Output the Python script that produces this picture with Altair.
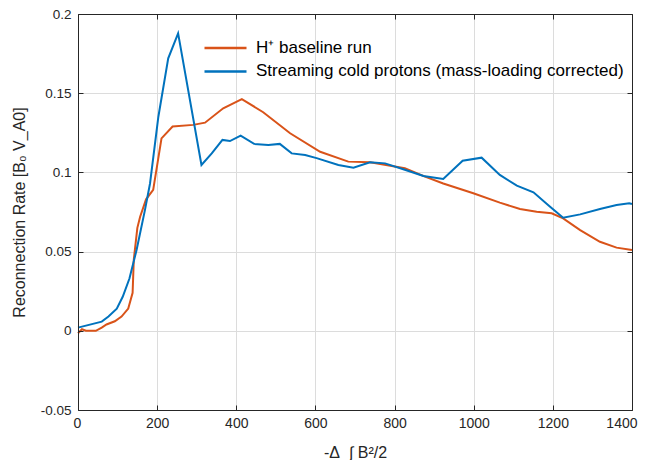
import altair as alt
import pandas as pd

label_h = "H⁺ baseline run"
label_s = "Streaming cold protons (mass-loading corrected)"

h_x = [0, 10, 20, 45, 60, 72, 93, 110, 127, 138, 141, 150, 157, 172, 190, 211, 239, 291, 321, 367,
       414, 468, 536, 612, 683, 738, 826, 877, 923, 999, 1066, 1117, 1159, 1197, 1226, 1269, 1319,
       1361, 1400]
h_y = [-0.0015, 0.001, 0.0, 0.0, 0.002, 0.004, 0.006, 0.009, 0.014, 0.024, 0.045, 0.065, 0.072,
       0.083, 0.089, 0.1215, 0.129, 0.130, 0.1314, 0.1405, 0.1463, 0.138, 0.1247, 0.113, 0.1068,
       0.1064, 0.1026, 0.0973, 0.093, 0.0868, 0.0809, 0.0769, 0.0752, 0.0742, 0.071, 0.0636,
       0.0562, 0.0525, 0.051]

s_x = [0, 60, 77, 98, 113, 130, 148, 169, 182, 203, 228, 253, 312, 338, 365, 384, 411, 445, 481,
       510, 540, 574, 603, 658, 696, 738, 776, 822, 873, 923, 972, 1020, 1066, 1109, 1151, 1193,
       1226, 1269, 1319, 1361, 1393, 1400]
s_y = [0.002, 0.0058, 0.009, 0.014, 0.0215, 0.033, 0.051, 0.076, 0.093, 0.135, 0.172, 0.1878,
       0.1047, 0.112, 0.1205, 0.1198, 0.1232, 0.118, 0.1173, 0.118, 0.112, 0.111, 0.109, 0.1047,
       0.103, 0.1064, 0.1057, 0.102, 0.0977, 0.0958, 0.1074, 0.1093, 0.0984, 0.0916, 0.0874,
       0.0783, 0.0714, 0.0735, 0.0769, 0.0794, 0.0805, 0.080]

x_ticks = [0, 200, 400, 600, 800, 1000, 1200, 1400]
y_ticks = [-0.05, 0, 0.05, 0.1, 0.15, 0.2]

df = pd.concat([
    pd.DataFrame({"x": h_x, "y": h_y, "series": label_h, "k": range(len(h_x))}),
    pd.DataFrame({"x": s_x, "y": s_y, "series": label_s, "k": range(len(s_x))}),
], ignore_index=True)

W, H = 554, 396
FONT = "Liberation Sans"
TXT = "#262626"
xscale = alt.Scale(domain=[0, 1400], nice=False, zero=False)
yscale = alt.Scale(domain=[-0.05, 0.2], nice=False, zero=False)

base = alt.Chart(df)

lines = base.mark_line(strokeWidth=2).encode(
    x=alt.X("x:Q", scale=xscale, axis=alt.Axis(
        values=x_ticks, grid=True, gridColor="#dcdcdc", ticks=False, tickSize=0,
        domain=False, labelPadding=6, labelFont=FONT, labelFontSize=14,
        labelFlush=True, labelFlushOffset=5,
        labelColor=TXT, labelExpr="'' + datum.value",
        title="-Δ\u00a0\u00a0∫ B²/2", titleFont=FONT, titleFontSize=16,
        titleFontWeight="normal", titleColor=TXT, titlePadding=14)),
    y=alt.Y("y:Q", scale=yscale, axis=alt.Axis(
        values=y_ticks, grid=True, gridColor="#dcdcdc", ticks=False, tickSize=0,
        domain=False, labelPadding=7, labelFont=FONT, labelFontSize=13.5, labelFlush=False,
        labelColor=TXT, labelExpr="'' + datum.value",
        title="Reconnection Rate [B₀ V_A0]", titleFont=FONT, titleFontSize=16,
        titleFontWeight="normal", titleColor=TXT, titlePadding=13)),
    color=alt.Color("series:N",
                    scale=alt.Scale(domain=[label_h, label_s], range=["#D95319", "#0072BD"]),
                    legend=alt.Legend(orient="none", legendX=125, legendY=24, title=None,
                                      symbolType="stroke", symbolStrokeWidth=2.5,
                                      symbolSize=1764, labelFont=FONT, labelFontSize=17,
                                      labelLimit=600, clipHeight=20,
                                      labelColor="#000000", labelOffset=8, rowPadding=3.4)),
    order="k:Q",
)

def guide(orient, vals, off, dom, tk):
    return alt.Axis(orient=orient, values=vals, labels=False, grid=False, domain=dom,
                    domainColor=TXT, domainWidth=1, ticks=tk, tickSize=5, tickColor=TXT,
                    tickWidth=1, offset=off, title=None, zindex=1)

def guide_layer(x_off, y_off, dom, tk):
    return base.mark_line(strokeOpacity=0).encode(
        x=alt.X("x:Q", scale=xscale, axis=guide("top", x_ticks, x_off, dom, tk)),
        y=alt.Y("y:Q", scale=yscale, axis=guide("right", y_ticks, y_off, dom, tk)),
        detail="series:N", order="k:Q",
    )

top_right_ticks = guide_layer(-5, -5, False, True)
top_right_box = guide_layer(0, 0, True, False)
bottom_left = guide_layer(-H, -W, True, True)

chart = alt.layer(lines, top_right_ticks, top_right_box, bottom_left).resolve_axis(
    x="independent", y="independent"
).properties(
    width=W, height=H,
    autosize=alt.AutoSizeParams(type="none"),
    padding={"left": 70, "top": 6, "right": 8, "bottom": 50},
    background="white",
).configure_view(stroke=None)

chart.save("out.html", embed_options={"renderer": "svg", "actions": False})
